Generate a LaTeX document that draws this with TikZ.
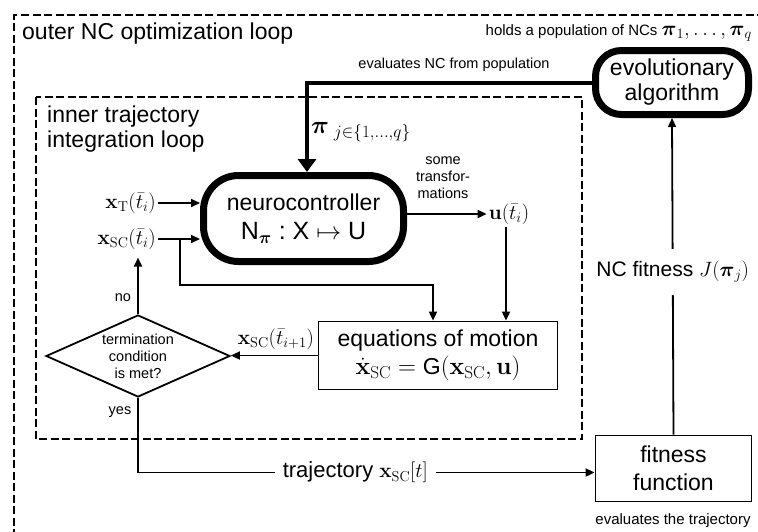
\documentclass[tikz,border=0pt]{standalone}
\usepackage{amsmath}
\usepackage[no-math]{fontspec}
\setmainfont{Liberation Sans}
\usetikzlibrary{arrows.meta,shapes.geometric,calc}
\begin{document}
\begin{tikzpicture}[x=1pt,y=-1pt,
  bigtext/.style={font=\fontsize{23}{25}\selectfont},
  midtext/.style={font=\fontsize{21}{24}\selectfont},
  smalltext/.style={font=\fontsize{14.5}{17}\selectfont},
  mathlbl/.style={inner sep=2pt,font=\fontsize{21}{24}\selectfont},
  thickbox/.style={draw,line width=7pt,inner sep=0pt,align=center,bigtext},
  thinbox/.style={draw,line width=1.8pt,inner sep=0pt,align=center,bigtext},
  arr/.style={line width=1.8pt,-{Triangle[length=9pt,width=8pt]}},
  thickarr/.style={line width=4pt,-{Triangle[length=13pt,width=18pt]}},
  dashbox/.style={line width=1.8pt,dash pattern=on 8pt off 3.5pt}]
\clip (0,0) rectangle (758,531);
\fill[white] (0,0) rectangle (758,531);
% outer and inner loops
\draw[dashbox] (14,560) -- (14,15) -- (790,15);
\draw[dashbox] (36,97) rectangle (582,439);
\node[bigtext,anchor=base west,inner sep=0pt] (outerlbl) at (22,39) {outer NC optimization loop};
\node[bigtext,anchor=base west,inner sep=0pt,align=left] (innerlbl) at (47,147) {inner trajectory\\integration loop};
% main nodes
\node[thickbox,minimum width=200pt,minimum height=86pt,rounded corners=35pt] (nc) at (303.5,218.5)
  {neurocontroller\\[4pt]{\fontsize{25}{27}\selectfont N$_{\boldsymbol{\pi}}$\;:\;X$\;\mapsto\;$U}};
\node[thickbox,minimum width=153pt,minimum height=64pt,rounded corners=26pt] (ea) at (672,82.5)
  {evolutionary\\algorithm};
\node[thinbox,minimum width=156pt,minimum height=66pt] (fit) at (673.5,468.5)
  {fitness\\[3pt]function};
\node[thinbox,minimum width=239pt,minimum height=68pt] (eom) at (438,355.5)
  {equations of motion\\[3pt]$\dot{\mathbf{x}}_{\mathrm{SC}}=\text{G}(\mathbf{x}_{\mathrm{SC}},\mathbf{u})$};
\node[diamond,draw,line width=1.8pt,minimum width=184pt,minimum height=82pt,inner sep=0pt,shape aspect=2.24] (dec) at (138,356) {};
\node[smalltext,align=center,inner sep=0pt] (dectext) at (dec.center) {termination\\condition\\is met?};
% labels
\node[mathlbl,anchor=east] (xt) at (158,203) {$\mathbf{x}_{\mathrm{T}}(\bar{t}_i)$};
\node[mathlbl,anchor=east] (xs) at (158,239) {$\mathbf{x}_{\mathrm{SC}}(\bar{t}_i)$};
\node[mathlbl] (u) at (509,214) {$\mathbf{u}(\bar{t}_i)$};
\node[smalltext,align=center,inner sep=0pt] (trf) at (443,178) {some\\transfor-\\mations};
\node[inner sep=2pt,anchor=west,font=\fontsize{23}{26}\selectfont] (pil) at (309,132) {$\boldsymbol{\pi}_{\;j\in\{1,\ldots,q\}}$};
\node[smalltext,anchor=base,inner sep=0pt] (evl) at (454,68) {evaluates NC from population};
\node[anchor=base east,inner sep=0pt] (holds) at (752,35) {\fontsize{15}{17}\selectfont holds a population of NCs\ \fontsize{22}{26}\selectfont$\boldsymbol{\pi}_1,\ldots,\boldsymbol{\pi}_q$};
\node[anchor=base,inner sep=0pt,font=\fontsize{15}{17}\selectfont] (evt) at (673,524) {evaluates the trajectory};
\node[mathlbl] (xsn) at (276,339) {$\mathbf{x}_{\mathrm{SC}}(\bar{t}_{i+1})$};
\node[smalltext] (no) at (123,298) {no};
\node[smalltext] (yes) at (120,412) {yes};
\coordinate (j1) at (180,285);
% connectors
\draw[thickarr] (ea.west) -| ($(nc.north)+(3.5,0)$);
\draw[arr] (xt.east) -- (xt.east -| nc.west);
\draw[arr] (xs.east) -- (xs.east -| nc.west);
\draw[arr] (j1 |- xs.east) -- (j1) -| ($(eom.north)+(-5,0)$);
\draw[arr] (nc.east |- u.west) -- (u.west);
\draw[arr] ($(u.south)+(-3,0)$) -- ($(u.south |- eom.north)+(-3,0)$);
\draw[arr] (eom.west) -- (eom.west -| dec.east);
\draw[arr] (dec.north) -- ($(dec.north |- xs.south)+(0,6)$);
\draw[arr] (dec.south) |- node[pos=0.738,fill=white,inner xsep=8pt,inner ysep=2pt,font=\fontsize{22}{24}\selectfont] {trajectory $\mathbf{x}_{\mathrm{SC}}[t]$} ($(fit.west)+(0,4)$);
\draw[arr] (fit.north) -- node[pos=0.514,fill=white,inner ysep=12pt,inner xsep=2pt,midtext] {NC fitness $J(\boldsymbol{\pi}_j)$} (ea.south);
\end{tikzpicture}
\end{document}
